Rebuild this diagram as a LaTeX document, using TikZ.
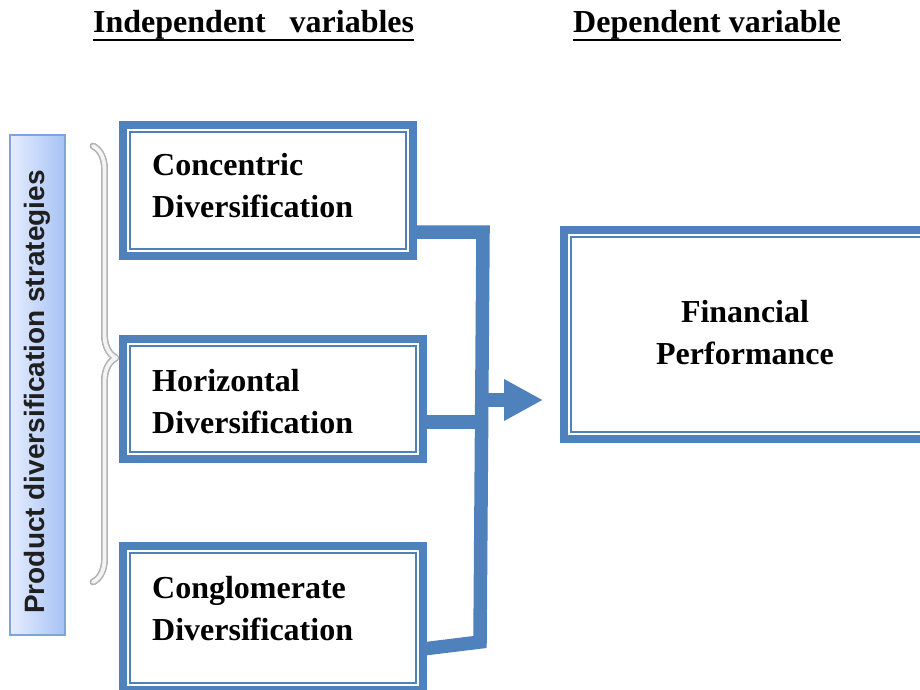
\documentclass[tikz,border=0pt]{standalone}
\usepackage{fontspec}
\setmainfont{Liberation Serif}
\newfontfamily\labelfont{Liberation Sans}
\usetikzlibrary{arrows.meta,calc,decorations.pathreplacing}
\definecolor{myblue}{HTML}{4F81BD}
\definecolor{lblborder}{HTML}{7EA4DA}
\definecolor{lblleft}{HTML}{E6EDFF}
\definecolor{lblright}{HTML}{A6C2F4}
\definecolor{braceshadow}{HTML}{7E8088}
\definecolor{braceout}{HTML}{B4B4B4}
\definecolor{bracein}{HTML}{F4F4F4}
\begin{document}
\begin{tikzpicture}[x=1pt,y=-1pt,
  boxst/.style={draw=myblue,line width=8pt,outer sep=0pt,inner sep=0pt,fill=white},
  innerline/.style={draw=myblue,line width=1.7pt},
  conn/.style={draw=myblue,line width=13.5pt},
  txt/.style={font=\fontsize{32}{42}\selectfont\bfseries,inner sep=0pt,anchor=base west},
  ctxt/.style={font=\fontsize{32}{42}\selectfont\bfseries,inner sep=0pt,anchor=base},
  ttl/.style={font=\fontsize{32}{42}\selectfont\bfseries,inner sep=0pt,anchor=base west},
  uline/.style={draw=black,line width=2.8pt},
  lbl/.style={draw=lblborder,line width=1.8pt,left color=lblleft,right color=lblright,
    minimum width=55pt,minimum height=500pt,inner sep=0pt,outer sep=0pt},
  lbltxt/.style={font=\labelfont\fontsize{28}{30}\selectfont\bfseries,text=black!88,rotate=90,inner sep=0pt},
  bracedeco/.style={line cap=round,line join=round,decorate,decoration={brace,amplitude=23pt,aspect=0.486}}
]
\clip (0,0) rectangle (920,690);
\fill[white] (0,0) rectangle (920,690);

% titles
\node[ttl] (ti) at (93,33) {Independent\ \ \ variables};
\node[ttl] (td) at (573,33) {Dependent variable};
\draw[uline] ([yshift=-7pt]ti.base west) -- ([yshift=-7pt]ti.base east);
\draw[uline] ([yshift=-7pt]td.base west) -- ([yshift=-7pt]td.base east);

% left label
\node[lbl] (lb) at (37.5,385) {};
\node[lbltxt] (lbt) at (37.5,392) {Product diversification strategies};

% brace
\coordinate (brtop) at (93,146);
\coordinate (brbot) at (93,582);
\draw[bracedeco,braceshadow,line width=6.5pt,xshift=1.5pt] (brtop) -- (brbot);
\draw[bracedeco,braceout,line width=6.5pt] (brtop) -- (brbot);
\draw[bracedeco,bracein,line width=3.8pt] (brtop) -- (brbot);

% boxes
\node[boxst,minimum width=290pt,minimum height=131pt] (b1) at (268,190.5) {};
\node[boxst,minimum width=300pt,minimum height=120pt] (b2) at (273,399) {};
\node[boxst,minimum width=300pt,minimum height=144pt] (b3) at (273,618) {};
\node[boxst,minimum width=371pt,minimum height=209pt] (fin) at (749.5,334.5) {};
\foreach \n in {b1,b2,b3,fin}
  \draw[innerline] ([shift={(7pt,-7pt)}]\n.north west) rectangle ([shift={(-7pt,7pt)}]\n.south east);

% connectors
\coordinate (j1) at (483,232);
\coordinate (j2) at (482,422);
\coordinate (j3) at (482,400);
\coordinate (j4) at (480,642);
\coordinate (k3) at (423,649);
\coordinate (tip) at (543,400);
\draw[conn] (b1.east |- j1) -- (j1) -- (j4) -- (b3.east |- k3);
\draw[conn] (b2.east |- j2) -- (j2);
\draw[conn,-{Triangle[length=39pt,width=39pt]}] (j3) -- (tip);

% texts
\node[txt] (t1a) at (152,175) {Concentric};
\node[txt] (t1b) at (152,217) {Diversification};
\node[txt] (t2a) at (152,391) {Horizontal};
\node[txt] (t2b) at (152,433) {Diversification};
\node[txt] (t3a) at (152,598) {Conglomerate};
\node[txt] (t3b) at (152,640) {Diversification};
\node[ctxt] (f1) at (745,322) {Financial};
\node[ctxt] (f2) at (745,364) {Performance};
\end{tikzpicture}
\end{document}
